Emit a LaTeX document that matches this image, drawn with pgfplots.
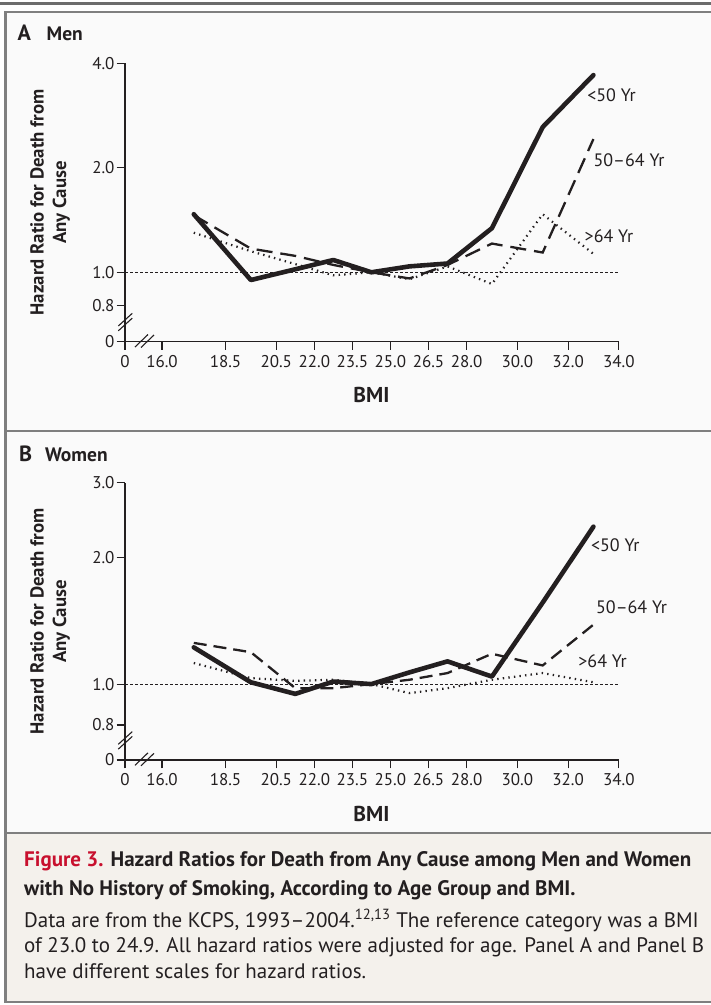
\documentclass[border=0pt]{standalone}
\usepackage{pgfplots}
\pgfplotsset{compat=1.18}
\usepackage{fontspec}
\setmainfont{PT Sans}

\definecolor{ink}{HTML}{231F20}
\definecolor{frame}{HTML}{7F7F7F}
\definecolor{panel}{HTML}{FAFAFA}
\definecolor{capbg}{HTML}{F4F1EC}
\definecolor{nejmred}{HTML}{C8102E}

\newcommand\tickfont{\fontsize{17}{18}\selectfont}
\newcommand\serfont{\fontsize{18}{20}\selectfont}
\newcommand\lblfont{\fontsize{18.8}{22.5}\selectfont\bfseries}
\newcommand\capfont{\fontsize{21}{24}\selectfont}

\pgfplotsset{
  under50/.style={ink, line width=4.6pt, line join=round, line cap=round},
  mid5064/.style={ink, line width=2.3pt, dash pattern=on 16pt off 8pt},
  over64/.style={ink, line width=2.2pt, dash pattern=on 1.4pt off 4.2pt},
  refline/.style={ink, line width=0.9pt, dash pattern=on 3pt off 2pt},
}

\newcommand\breakmarks[1]{%
  \begin{scope}[yshift=#1, ink, line width=1.1pt]
    \draw (118.3pt,-326pt) -- (132.3pt,-313.3pt);
    \draw (118.3pt,-330.8pt) -- (132.3pt,-318.1pt);
    \draw (135pt,-347pt) -- (148pt,-334.5pt);
    \draw (141pt,-347.5pt) -- (154pt,-335pt);
  \end{scope}}

\begin{document}
\begin{tikzpicture}
\useasboundingbox (0pt,0pt) rectangle (711pt,-1005pt);
\fill[white] (0pt,0pt) rectangle (711pt,-1005pt);
\fill[frame!85!black] (0pt,-2pt) rectangle (711pt,-5pt);
\filldraw[fill=panel, draw=frame, line width=2.5pt] (5.5pt,-12pt) rectangle (720pt,-431pt);
\filldraw[fill=panel, draw=frame, line width=2.5pt] (5.5pt,-431pt) rectangle (720pt,-833pt);
\filldraw[fill=capbg, draw=frame, line width=2.5pt] (5.5pt,-833pt) rectangle (720pt,-1002pt);

% ---------- Panel A: Men ----------
\node[anchor=base west, inner sep=0pt, text=ink, font=\fontsize{22}{24}\selectfont\bfseries] at (17.5pt,-40pt) {A};
\node[anchor=base west, inner sep=0pt, text=ink, font=\fontsize{19.5}{22}\selectfont\bfseries] at (46.5pt,-40pt) {Men};
\node[rotate=90, align=center, inner sep=0pt, text=ink, font=\lblfont] at (50pt,-202.5pt)
  {Hazard Ratio for Death from\\Any Cause};
\node[inner sep=0pt, text=ink, font=\fontsize{21.5}{22}\selectfont\bfseries] at (371.5pt,-395pt) {BMI};

\begin{axis}[at={(125pt,-341.7pt)}, anchor=south west,
  scale only axis, width=493.8pt, height=278.4pt,
  xmin=14.54, xmax=34, ymode=log, ymin=0.631, ymax=4,
  axis x line*=bottom, axis y line*=left,
  axis line style={-, line width=1.1pt, ink},
  xtick={14.54,16,18.5,20.5,22,23.5,25,26.5,28,30,32,34},
  xticklabels={0,16.0,18.5,20.5,22.0,23.5,25.0,26.5,28.0,30.0,32.0,34.0},
  ytick={0.631,0.8,1,2,4}, yticklabels={0,0.8,1.0,2.0,4.0},
  yminorticks=false, xminorticks=false,
  tick align=outside, major tick length=8.3pt,
  tick style={line width=1.1pt, ink},
  x tick label style={font=\tickfont, text=ink, inner sep=0pt, yshift=-5pt},
  y tick label style={font=\tickfont, text=ink, inner sep=0pt, xshift=-2pt},
  clip=false]
  \addplot[refline] coordinates {(14.54,1) (34,1)};
  % >64 Yr
  \addplot[over64] coordinates {(17.25,1.30) (19.5,1.15) (21.25,1.056) (22.75,0.98) (24.25,1.00)
    (25.75,0.955) (27.25,1.04) (29,0.925) (31,1.47) (33,1.13)};
  % 50-64 Yr
  \addplot[mid5064] coordinates {(17.25,1.46) (19.5,1.17) (21.25,1.115) (22.75,1.05) (24.25,1.00)
    (25.75,0.96) (27.25,1.05) (29,1.21) (31,1.14) (33,2.42)};
  % <50 Yr
  \addplot[under50] coordinates {(17.25,1.47) (19.5,0.95) (21.25,1.02) (22.75,1.085) (24.25,1.00)
    (25.75,1.04) (27.25,1.06) (29,1.34) (31,2.62) (33,3.70)};
  \node[anchor=west, inner sep=0pt, text=ink, font=\serfont] at (axis cs:32.75,3.24) {<50 Yr};
  \node[anchor=west, inner sep=0pt, text=ink, font=\serfont] at (axis cs:33.0,2.1) {50–64 Yr};
  \node[anchor=west, inner sep=0pt, text=ink, font=\serfont] at (axis cs:32.65,1.27) {>64 Yr};
\end{axis}
\breakmarks{0pt}

% ---------- Panel B: Women ----------
\node[anchor=base west, inner sep=0pt, text=ink, font=\fontsize{22}{24}\selectfont\bfseries] at (19pt,-461pt) {B};
\node[anchor=base west, inner sep=0pt, text=ink, font=\fontsize{19.5}{22}\selectfont\bfseries] at (45pt,-461pt) {Women};
\node[rotate=90, align=center, inner sep=0pt, text=ink, font=\lblfont] at (50pt,-621.4pt)
  {Hazard Ratio for Death from\\Any Cause};
\node[inner sep=0pt, text=ink, font=\fontsize{21.5}{22}\selectfont\bfseries] at (371.5pt,-814pt) {BMI};

\begin{axis}[at={(125pt,-760pt)}, anchor=south west,
  scale only axis, width=493.8pt, height=277.3pt,
  xmin=14.54, xmax=34, ymode=log, ymin=0.661, ymax=3,
  axis x line*=bottom, axis y line*=left,
  axis line style={-, line width=1.1pt, ink},
  xtick={14.54,16,18.5,20.5,22,23.5,25,26.5,28,30,32,34},
  xticklabels={0,16.0,18.5,20.5,22.0,23.5,25.0,26.5,28.0,30.0,32.0,34.0},
  ytick={0.661,0.8,1,2,3}, yticklabels={0,0.8,1.0,2.0,3.0},
  yminorticks=false, xminorticks=false,
  tick align=outside, major tick length=8.3pt,
  tick style={line width=1.1pt, ink},
  x tick label style={font=\tickfont, text=ink, inner sep=0pt, yshift=-5pt},
  y tick label style={font=\tickfont, text=ink, inner sep=0pt, xshift=-2pt},
  clip=false]
  \addplot[refline] coordinates {(14.54,1) (34,1)};
  % >64 Yr
  \addplot[over64] coordinates {(17.25,1.122) (19.5,1.033) (21.25,1.018) (22.75,1.024) (24.25,1.00)
    (25.75,0.952) (27.25,0.978) (29,1.024) (31,1.062) (33,1.01)};
  % 50-64 Yr
  \addplot[mid5064, dash pattern=on 13pt off 7pt] coordinates {(17.25,1.252) (19.5,1.19) (21.25,0.978) (22.75,0.978) (24.25,1.00)
    (25.75,1.024) (27.25,1.062) (29,1.18) (31,1.107) (33,1.383)};
  % <50 Yr
  \addplot[under50] coordinates {(17.25,1.222) (19.5,1.01) (21.25,0.948) (22.75,1.014) (24.25,1.00)
    (25.75,1.066) (27.25,1.132) (29,1.042) (31,1.56) (33,2.36)};
  \node[anchor=west, inner sep=0pt, text=ink, font=\serfont] at (axis cs:32.9,2.13) {<50 Yr};
  \node[anchor=west, inner sep=0pt, text=ink, font=\serfont] at (axis cs:33.1,1.52) {50–64 Yr};
  \node[anchor=west, inner sep=0pt, text=ink, font=\serfont] at (axis cs:32.4,1.13) {>64 Yr};
\end{axis}
\breakmarks{-418.3pt}

% ---------- Caption ----------
\begin{scope}[every node/.style={anchor=base west, inner sep=0pt, text=ink, font=\capfont}]
\node at (24pt,-866pt) {\bfseries{\color{nejmred}Figure 3.} Hazard Ratios for Death from Any Cause among Men and Women};
\node at (24pt,-895pt) {\bfseries with No History of Smoking, According to Age Group and BMI.};
\node at (24pt,-927pt) {Data are from the KCPS, 1993–2004.\textsuperscript{12,13} The reference category was a BMI};
\node at (24pt,-952pt) {of 23.0 to 24.9. All hazard ratios were adjusted for age. Panel A and Panel B};
\node at (24pt,-978pt) {have different scales for hazard ratios.};
\end{scope}
\end{tikzpicture}
\end{document}
